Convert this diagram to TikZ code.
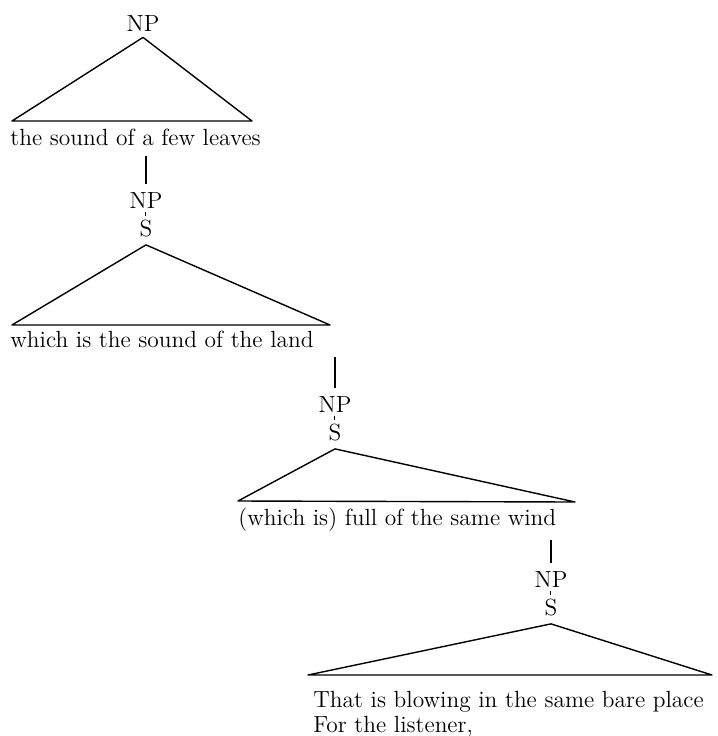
\documentclass[tikz,border=0pt]{standalone}
\usetikzlibrary{calc,positioning}
\newcommand{\treefont}{\fontsize{11.7}{12.5}\selectfont}
\tikzset{
  cat/.style={inner sep=0pt,font=\treefont},
  yield/.style={inner sep=0pt,anchor=base west,font=\treefont},
  tri/.style={line width=0.7pt,line join=round},
  drop/.style={line width=0.55pt,shorten >=4pt},
  tick/.style={line width=0.5pt,shorten <=1.6pt,shorten >=1.6pt}
}
\begin{document}
\begin{tikzpicture}[x=0.5pt,y=-0.5pt]
  \useasboundingbox (0,0) rectangle (718,736);
  % first triangle
  \node[cat] (np1) at (143,23) {NP};
  \coordinate (a1) at ($(np1.south)+(0,6)$);
  \coordinate (l1) at (12,121);
  \coordinate (r1) at (252,121);
  \draw[tri] (l1) -- (a1) -- (r1) -- cycle;
  \node[yield] (y1) at (10,145) {the sound of a few leaves};
  % second triangle
  \coordinate (d1) at (146,156);
  \node[cat] (np2) at (146,200) {NP};
  \node[cat] (s2) at (146,228) {S};
  \draw[drop] (d1) -- (np2);
  \draw[tick] (np2) -- (s2);
  \coordinate (a2) at ($(s2.south)+(0,8)$);
  \coordinate (l2) at (12,325);
  \coordinate (r2) at (330,325);
  \draw[tri] (l2) -- (a2) -- (r2) -- cycle;
  \node[yield] (y2) at (10,347) {which is the sound of the land};
  % third triangle
  \coordinate (d2) at (335,357);
  \node[cat] (np3) at (335,404) {NP};
  \node[cat] (s3) at (335,432) {S};
  \draw[drop] (d2) -- (np3);
  \draw[tick] (np3) -- (s3);
  \coordinate (a3) at ($(s3.south)+(0,8)$);
  \coordinate (l3) at (238,501);
  \coordinate (r3) at (575,502);
  \draw[tri] (l3) -- (a3) -- (r3) -- cycle;
  \node[yield] (y3) at (238,525) {(which is) full of the same wind};
  % fourth triangle
  \coordinate (d3) at (551,540);
  \node[cat] (np4) at (551,579) {NP};
  \node[cat] (s4) at (551,607) {S};
  \draw[drop] (d3) -- (np4);
  \draw[tick] (np4) -- (s4);
  \coordinate (a4) at ($(s4.south)+(0,8)$);
  \coordinate (l4) at (308,675);
  \coordinate (r4) at (712,675);
  \draw[tri] (l4) -- (a4) -- (r4) -- cycle;
  \node[yield] (y4) at (313,707) {That is blowing in the same bare place};
  \node[yield] (y5) at (313,732) {For the listener,};
\end{tikzpicture}
\end{document}
